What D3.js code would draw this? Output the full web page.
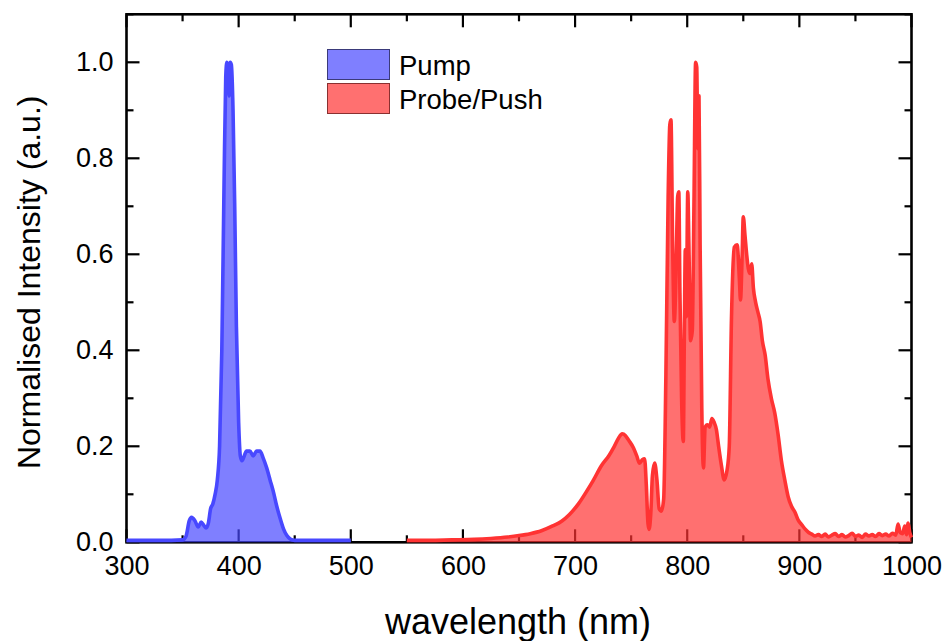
<!DOCTYPE html>
<html>
<head>
<meta charset="utf-8">
<script src="https://cdn.jsdelivr.net/npm/d3@7"></script>
<style>
  html, body { margin: 0; padding: 0; background: #fff; }
  svg { display: block; font-family: Arial, "Liberation Sans", sans-serif; }
</style>
</head>
<body>
<svg id="chart" width="948" height="641"></svg>
<script>
// ---- data ----
const pumpWavelength = [300,310,320,330,340,350,353,356,358,361,364,366.5,369,371,373,375,377,379,381,383,385,387,388.5,389.5,390.5,391.5,392.5,393.5,395,396.5,398,400,401.5,403,405,407,410,413,416,419,422,425,428,431,434,437,440,443,446,450,470,500];
const pumpIntensity  = [0.004,0.004,0.004,0.004,0.004,0.005,0.012,0.045,0.052,0.045,0.032,0.042,0.035,0.03,0.04,0.07,0.08,0.1,0.13,0.2,0.4,0.75,0.97,1.0,0.99,0.93,1.0,0.995,0.9,0.7,0.45,0.25,0.18,0.17,0.18,0.19,0.19,0.18,0.19,0.19,0.175,0.155,0.13,0.105,0.075,0.05,0.028,0.014,0.007,0.004,0.004,0.004];

const probeWavelength = [550,570,590,610,625,640,650,660,670,680,688,695,703,710,716,723.6,730,735,739,742,745,748,752,755,757.5,760,762,763.5,765,766,767.5,769,771,773,775,777,779,781,783,784.5,785.5,787,788.5,790,791.5,792.5,793.5,795,796.5,797.5,798.3,799.2,800.5,801.5,803,804.5,806,807.5,808.5,809.5,810.5,811.5,813,814.5,816,818,820,822,824,826,828,830.5,833,835.5,837.5,839.5,842,844.5,846.5,847.5,849,850,851.5,853,854.5,856,857.5,859,861,863,865,867,869.5,872,875,878,881,884,887,890,893,896,899,902,905,908,911,914,917,920,923,926,929,932,935,938,941,944,947,950,953,956,959,962,965,968,971,974,977,980,983,986,988,990,992,994,995.5,997,998.5,1000];
const probeIntensity  = [0.004,0.004,0.005,0.006,0.008,0.011,0.014,0.018,0.024,0.034,0.044,0.058,0.08,0.105,0.128,0.16,0.18,0.2,0.218,0.226,0.222,0.212,0.197,0.18,0.165,0.172,0.174,0.12,0.04,0.027,0.06,0.14,0.165,0.13,0.07,0.065,0.09,0.35,0.72,0.87,0.88,0.62,0.46,0.56,0.72,0.73,0.52,0.3,0.21,0.45,0.61,0.47,0.73,0.62,0.42,0.44,0.7,1.0,0.99,0.82,0.93,0.62,0.28,0.155,0.24,0.245,0.24,0.258,0.25,0.235,0.2,0.16,0.13,0.15,0.2,0.47,0.615,0.62,0.55,0.505,0.6,0.678,0.64,0.6,0.57,0.56,0.58,0.53,0.5,0.48,0.46,0.42,0.39,0.34,0.3,0.27,0.225,0.17,0.13,0.095,0.075,0.063,0.046,0.037,0.028,0.021,0.017,0.013,0.016,0.012,0.017,0.011,0.015,0.018,0.012,0.016,0.011,0.014,0.019,0.012,0.015,0.01,0.017,0.013,0.016,0.012,0.018,0.014,0.017,0.013,0.019,0.015,0.038,0.02,0.018,0.034,0.016,0.04,0.02,0.01];

const xTicks = [300,400,500,600,700,800,900,1000];
const yTicks = [0.0,0.2,0.4,0.6,0.8,1.0];
const seriesNames = ["Pump","Probe/Push"];
const seriesColors = ["#4848ff","#ff3333"];

// ---- layout ----
const svg = d3.select("#chart");
const L = 126.5, R = 911.5, T = 14.3, B = 542.3;
const x = d3.scaleLinear().domain([300,1000]).range([L,R]);
const y = d3.scaleLinear().domain([0,1.1]).range([B,T]);

const minorX = d3.range(300,1001,50);
const minorY = d3.range(0,1.101,0.1);

const tickG = svg.append("g").attr("stroke","#000").attr("stroke-width",2.2);
const majL = 13, minL = 7;
minorX.forEach(v => {
  const isMaj = Math.abs(v % 100) < 1e-6;
  const len = isMaj ? majL : minL;
  tickG.append("line").attr("x1",x(v)).attr("x2",x(v)).attr("y1",B).attr("y2",B-len);
  tickG.append("line").attr("x1",x(v)).attr("x2",x(v)).attr("y1",T).attr("y2",T+len);
});
minorY.forEach((v,i) => {
  const isMaj = i % 2 === 0;
  const len = isMaj ? majL : minL;
  tickG.append("line").attr("y1",y(v)).attr("y2",y(v)).attr("x1",L).attr("x2",L+len);
  tickG.append("line").attr("y1",y(v)).attr("y2",y(v)).attr("x1",R).attr("x2",R-len);
});

// frame
svg.append("rect").attr("x",L).attr("y",T).attr("width",R-L).attr("height",B-T)
  .attr("fill","none").attr("stroke","#000").attr("stroke-width",2.6);

// tick labels via d3 axis
const xAxis = d3.axisBottom(x).tickValues(xTicks).tickSize(0).tickPadding(14).tickFormat(d3.format("d"));
const gx = svg.append("g").attr("transform",`translate(0,${B})`).call(xAxis);
gx.select(".domain").remove();
gx.selectAll("text").attr("font-size",27).attr("fill","#000").attr("font-family","Arial, 'Liberation Sans', sans-serif");

const yAxis = d3.axisLeft(y).tickValues(yTicks).tickSize(0).tickPadding(13).tickFormat(d3.format(".1f"));
const gy = svg.append("g").attr("transform",`translate(${L},0)`).call(yAxis);
gy.select(".domain").remove();
gy.selectAll("text").attr("font-size",27).attr("fill","#000").attr("font-family","Arial, 'Liberation Sans', sans-serif");

// series
const series = [
  { name: seriesNames[0], color: seriesColors[0], data: pumpWavelength.map((w,i)=>[w,pumpIntensity[i]]) },
  { name: seriesNames[1], color: seriesColors[1], data: probeWavelength.map((w,i)=>[w,probeIntensity[i]]) }
];
const area = d3.area().x(d=>x(d[0])).y0(y(0)).y1(d=>y(d[1])).curve(d3.curveMonotoneX);
const line = d3.line().x(d=>x(d[0])).y(d=>y(d[1])).curve(d3.curveMonotoneX);

series.forEach(s => {
  svg.append("path").datum(s.data).attr("d",area).attr("fill",s.color).attr("fill-opacity",0.7).attr("stroke","none");
});
series.forEach(s => {
  svg.append("path").datum(s.data).attr("d",line).attr("fill","none").attr("stroke",s.color)
    .attr("stroke-width",3.6).attr("stroke-linejoin","round");
});

// legend
const lg = svg.append("g");
const swatchBorder = ["#3a3a7a","#8a3030"];
series.forEach((s,i) => {
  const yy = 49.5 + i*34;
  lg.append("rect").attr("x",327.5).attr("y",yy).attr("width",62).attr("height",30)
    .attr("fill",s.color).attr("fill-opacity",0.7).attr("stroke",swatchBorder[i]).attr("stroke-width",1);
  lg.append("text").attr("x",399).attr("y",yy+25).attr("font-size",27.5).attr("fill","#000").text(s.name);
});

// axis titles
svg.append("text").attr("x",(L+R)/2 - 1).attr("y",634).attr("text-anchor","middle")
  .attr("font-size",36).attr("fill","#000").text("wavelength (nm)");
svg.append("text").attr("transform",`translate(40,${(T+B)/2 + 4}) rotate(-90)`).attr("text-anchor","middle")
  .attr("font-size",32).attr("fill","#000").text("Normalised Intensity (a.u.)");
</script>
</body>
</html>
